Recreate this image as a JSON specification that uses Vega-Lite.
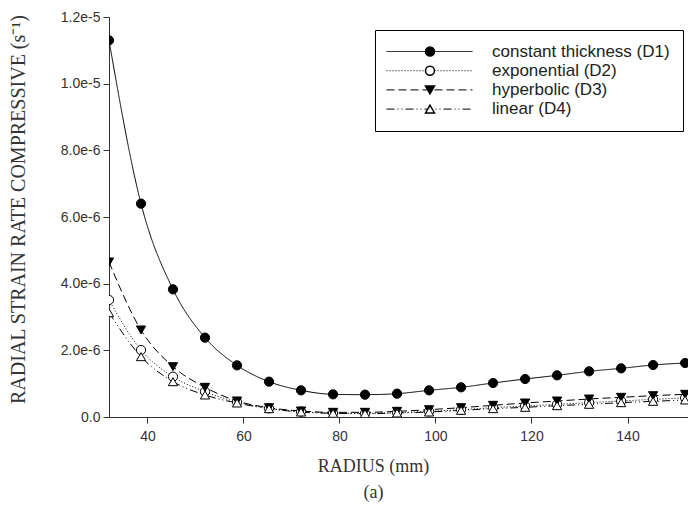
{
  "$schema": "https://vega.github.io/schema/vega-lite/v6.json",
  "width": 579,
  "height": 400,
  "autosize": {"type": "none"},
  "padding": {"left": 109, "top": 17, "right": 0, "bottom": 97},
  "background": "white",
  "config": {"view": {"stroke": null}, "font": "Liberation Sans"},
  "data": {"values": [
    {"r": 32, "v": 1.13e-5, "s": "constant thickness (D1)"},
    {"r": 38.67, "v": 6.4e-6, "s": "constant thickness (D1)"},
    {"r": 45.33, "v": 3.83e-6, "s": "constant thickness (D1)"},
    {"r": 52, "v": 2.38e-6, "s": "constant thickness (D1)"},
    {"r": 58.67, "v": 1.55e-6, "s": "constant thickness (D1)"},
    {"r": 65.33, "v": 1.06e-6, "s": "constant thickness (D1)"},
    {"r": 72, "v": 8.0e-7, "s": "constant thickness (D1)"},
    {"r": 78.67, "v": 6.8e-7, "s": "constant thickness (D1)"},
    {"r": 85.33, "v": 6.7e-7, "s": "constant thickness (D1)"},
    {"r": 92, "v": 7.0e-7, "s": "constant thickness (D1)"},
    {"r": 98.67, "v": 8.0e-7, "s": "constant thickness (D1)"},
    {"r": 105.33, "v": 8.9e-7, "s": "constant thickness (D1)"},
    {"r": 112, "v": 1.02e-6, "s": "constant thickness (D1)"},
    {"r": 118.67, "v": 1.14e-6, "s": "constant thickness (D1)"},
    {"r": 125.33, "v": 1.25e-6, "s": "constant thickness (D1)"},
    {"r": 132, "v": 1.37e-6, "s": "constant thickness (D1)"},
    {"r": 138.67, "v": 1.46e-6, "s": "constant thickness (D1)"},
    {"r": 145.33, "v": 1.56e-6, "s": "constant thickness (D1)"},
    {"r": 152, "v": 1.62e-6, "s": "constant thickness (D1)"},
    {"r": 32, "v": 3.51e-6, "s": "exponential (D2)"},
    {"r": 38.67, "v": 2.01e-6, "s": "exponential (D2)"},
    {"r": 45.33, "v": 1.21e-6, "s": "exponential (D2)"},
    {"r": 52, "v": 7.6e-7, "s": "exponential (D2)"},
    {"r": 58.67, "v": 4.5e-7, "s": "exponential (D2)"},
    {"r": 65.33, "v": 2.6e-7, "s": "exponential (D2)"},
    {"r": 72, "v": 1.6e-7, "s": "exponential (D2)"},
    {"r": 78.67, "v": 1.2e-7, "s": "exponential (D2)"},
    {"r": 85.33, "v": 1.1e-7, "s": "exponential (D2)"},
    {"r": 92, "v": 1.3e-7, "s": "exponential (D2)"},
    {"r": 98.67, "v": 1.7e-7, "s": "exponential (D2)"},
    {"r": 105.33, "v": 2.2e-7, "s": "exponential (D2)"},
    {"r": 112, "v": 2.8e-7, "s": "exponential (D2)"},
    {"r": 118.67, "v": 3.3e-7, "s": "exponential (D2)"},
    {"r": 125.33, "v": 3.8e-7, "s": "exponential (D2)"},
    {"r": 132, "v": 4.3e-7, "s": "exponential (D2)"},
    {"r": 138.67, "v": 4.8e-7, "s": "exponential (D2)"},
    {"r": 145.33, "v": 5.3e-7, "s": "exponential (D2)"},
    {"r": 152, "v": 5.7e-7, "s": "exponential (D2)"},
    {"r": 32, "v": 4.65e-6, "s": "hyperbolic (D3)"},
    {"r": 38.67, "v": 2.61e-6, "s": "hyperbolic (D3)"},
    {"r": 45.33, "v": 1.51e-6, "s": "hyperbolic (D3)"},
    {"r": 52, "v": 8.9e-7, "s": "hyperbolic (D3)"},
    {"r": 58.67, "v": 4.8e-7, "s": "hyperbolic (D3)"},
    {"r": 65.33, "v": 2.8e-7, "s": "hyperbolic (D3)"},
    {"r": 72, "v": 1.8e-7, "s": "hyperbolic (D3)"},
    {"r": 78.67, "v": 1.4e-7, "s": "hyperbolic (D3)"},
    {"r": 85.33, "v": 1.4e-7, "s": "hyperbolic (D3)"},
    {"r": 92, "v": 1.7e-7, "s": "hyperbolic (D3)"},
    {"r": 98.67, "v": 2.2e-7, "s": "hyperbolic (D3)"},
    {"r": 105.33, "v": 2.8e-7, "s": "hyperbolic (D3)"},
    {"r": 112, "v": 3.5e-7, "s": "hyperbolic (D3)"},
    {"r": 118.67, "v": 4.2e-7, "s": "hyperbolic (D3)"},
    {"r": 125.33, "v": 4.8e-7, "s": "hyperbolic (D3)"},
    {"r": 132, "v": 5.4e-7, "s": "hyperbolic (D3)"},
    {"r": 138.67, "v": 5.9e-7, "s": "hyperbolic (D3)"},
    {"r": 145.33, "v": 6.4e-7, "s": "hyperbolic (D3)"},
    {"r": 152, "v": 6.8e-7, "s": "hyperbolic (D3)"},
    {"r": 32, "v": 3.13e-6, "s": "linear (D4)"},
    {"r": 38.67, "v": 1.81e-6, "s": "linear (D4)"},
    {"r": 45.33, "v": 1.06e-6, "s": "linear (D4)"},
    {"r": 52, "v": 6.6e-7, "s": "linear (D4)"},
    {"r": 58.67, "v": 4.2e-7, "s": "linear (D4)"},
    {"r": 65.33, "v": 2.5e-7, "s": "linear (D4)"},
    {"r": 72, "v": 1.5e-7, "s": "linear (D4)"},
    {"r": 78.67, "v": 1.1e-7, "s": "linear (D4)"},
    {"r": 85.33, "v": 1.0e-7, "s": "linear (D4)"},
    {"r": 92, "v": 1.2e-7, "s": "linear (D4)"},
    {"r": 98.67, "v": 1.5e-7, "s": "linear (D4)"},
    {"r": 105.33, "v": 2.0e-7, "s": "linear (D4)"},
    {"r": 112, "v": 2.5e-7, "s": "linear (D4)"},
    {"r": 118.67, "v": 2.9e-7, "s": "linear (D4)"},
    {"r": 125.33, "v": 3.4e-7, "s": "linear (D4)"},
    {"r": 132, "v": 3.8e-7, "s": "linear (D4)"},
    {"r": 138.67, "v": 4.3e-7, "s": "linear (D4)"},
    {"r": 145.33, "v": 4.7e-7, "s": "linear (D4)"},
    {"r": 152, "v": 5.1e-7, "s": "linear (D4)"}
  ]},
  "encoding": {
    "x": {
      "field": "r", "type": "quantitative",
      "scale": {"domain": [32, 152.6], "nice": false, "zero": false},
      "axis": {
        "values": [40, 60, 80, 100, 120, 140],
        "grid": false, "tickSize": 6, "tickColor": "#333", "domainColor": "#333",
        "labelFont": "Liberation Sans", "labelFontSize": 14, "labelColor": "#333", "labelPadding": 6,
        "title": ["RADIUS (mm)", "(a)"],
        "titleFont": "Liberation Serif", "titleFontSize": 18, "titleFontWeight": "normal", "titleColor": "#333",
        "titleX": 264, "titleY": 54, "titleBaseline": "alphabetic", "titleLineHeight": 26, "titleAlign": "center"
      }
    },
    "y": {
      "field": "v", "type": "quantitative",
      "scale": {"domain": [0, 1.2e-5], "nice": false},
      "axis": {
        "values": [0, 2e-6, 4e-6, 6e-6, 8e-6, 1e-5, 1.2e-5],
        "labelExpr": "datum.value == 0 ? '0.0' : format(datum.value, '.1e')",
        "grid": false, "tickSize": 6, "tickColor": "#333", "domainColor": "#333",
        "labelFont": "Liberation Sans", "labelFontSize": 14, "labelColor": "#333", "labelPadding": 3,
        "title": "RADIAL STRAIN RATE COMPRESSIVE (s⁻¹)",
        "titleFont": "Liberation Serif", "titleFontSize": 20, "titleFontWeight": "normal", "titleColor": "#333",
        "titleX": -91, "titleY": 192, "titleBaseline": "middle", "titleAlign": "center", "titleAngle": -90
      }
    }
  },
  "layer": [
    {
      "mark": {"type": "line", "interpolate": "monotone", "color": "black", "strokeWidth": 1, "clip": true},
      "encoding": {
        "strokeDash": {
          "field": "s", "type": "nominal",
          "scale": {
            "domain": ["constant thickness (D1)", "exponential (D2)", "hyperbolic (D3)", "linear (D4)"],
            "range": [[1, 0], [1, 2], [8, 4], [8, 3, 1, 3, 1, 3]]
          },
          "legend": {
            "orient": "none", "legendX": 266, "legendY": 13, "title": null,
            "padding": 13, "strokeColor": "black",
            "symbolType": "M-8.6,0H8.6", "symbolSize": 100, "symbolStrokeColor": "black", "symbolStrokeWidth": 1,
            "symbolOffset": 33, "labelOffset": 54, "labelLimit": 400,
            "labelFont": "Liberation Sans", "labelFontSize": 17, "labelColor": "#222",
            "rowPadding": 1.2, "zindex": 0
          }
        }
      }
    },
    {
      "mark": {"type": "point", "filled": true, "stroke": "black", "strokeWidth": 1, "size": 85, "opacity": 1, "clip": true},
      "encoding": {
        "shape": {
          "field": "s", "type": "nominal",
          "scale": {"range": ["circle", "circle", "triangle-down", "triangle-up"]},
          "legend": {
            "orient": "none", "legendX": 266, "legendY": 13, "title": null,
            "padding": 13, "symbolSize": 80,
            "symbolOffset": 33.5, "labelOffset": 54, "labelLimit": 400,
            "labelFont": "Liberation Sans", "labelFontSize": 17, "labelOpacity": 0,
            "rowPadding": 1.2, "zindex": 5,
            "encode": {"symbols": {"update": {
              "fill": {"scale": "fill", "field": "value"},
              "stroke": {"value": "black"},
              "strokeWidth": {"value": 1},
              "opacity": {"value": 1}
            }}}
          }
        },
        "fill": {
          "field": "s", "type": "nominal",
          "scale": {"range": ["black", "white", "black", "white"]},
          "legend": null
        }
      }
    }
  ]
}
